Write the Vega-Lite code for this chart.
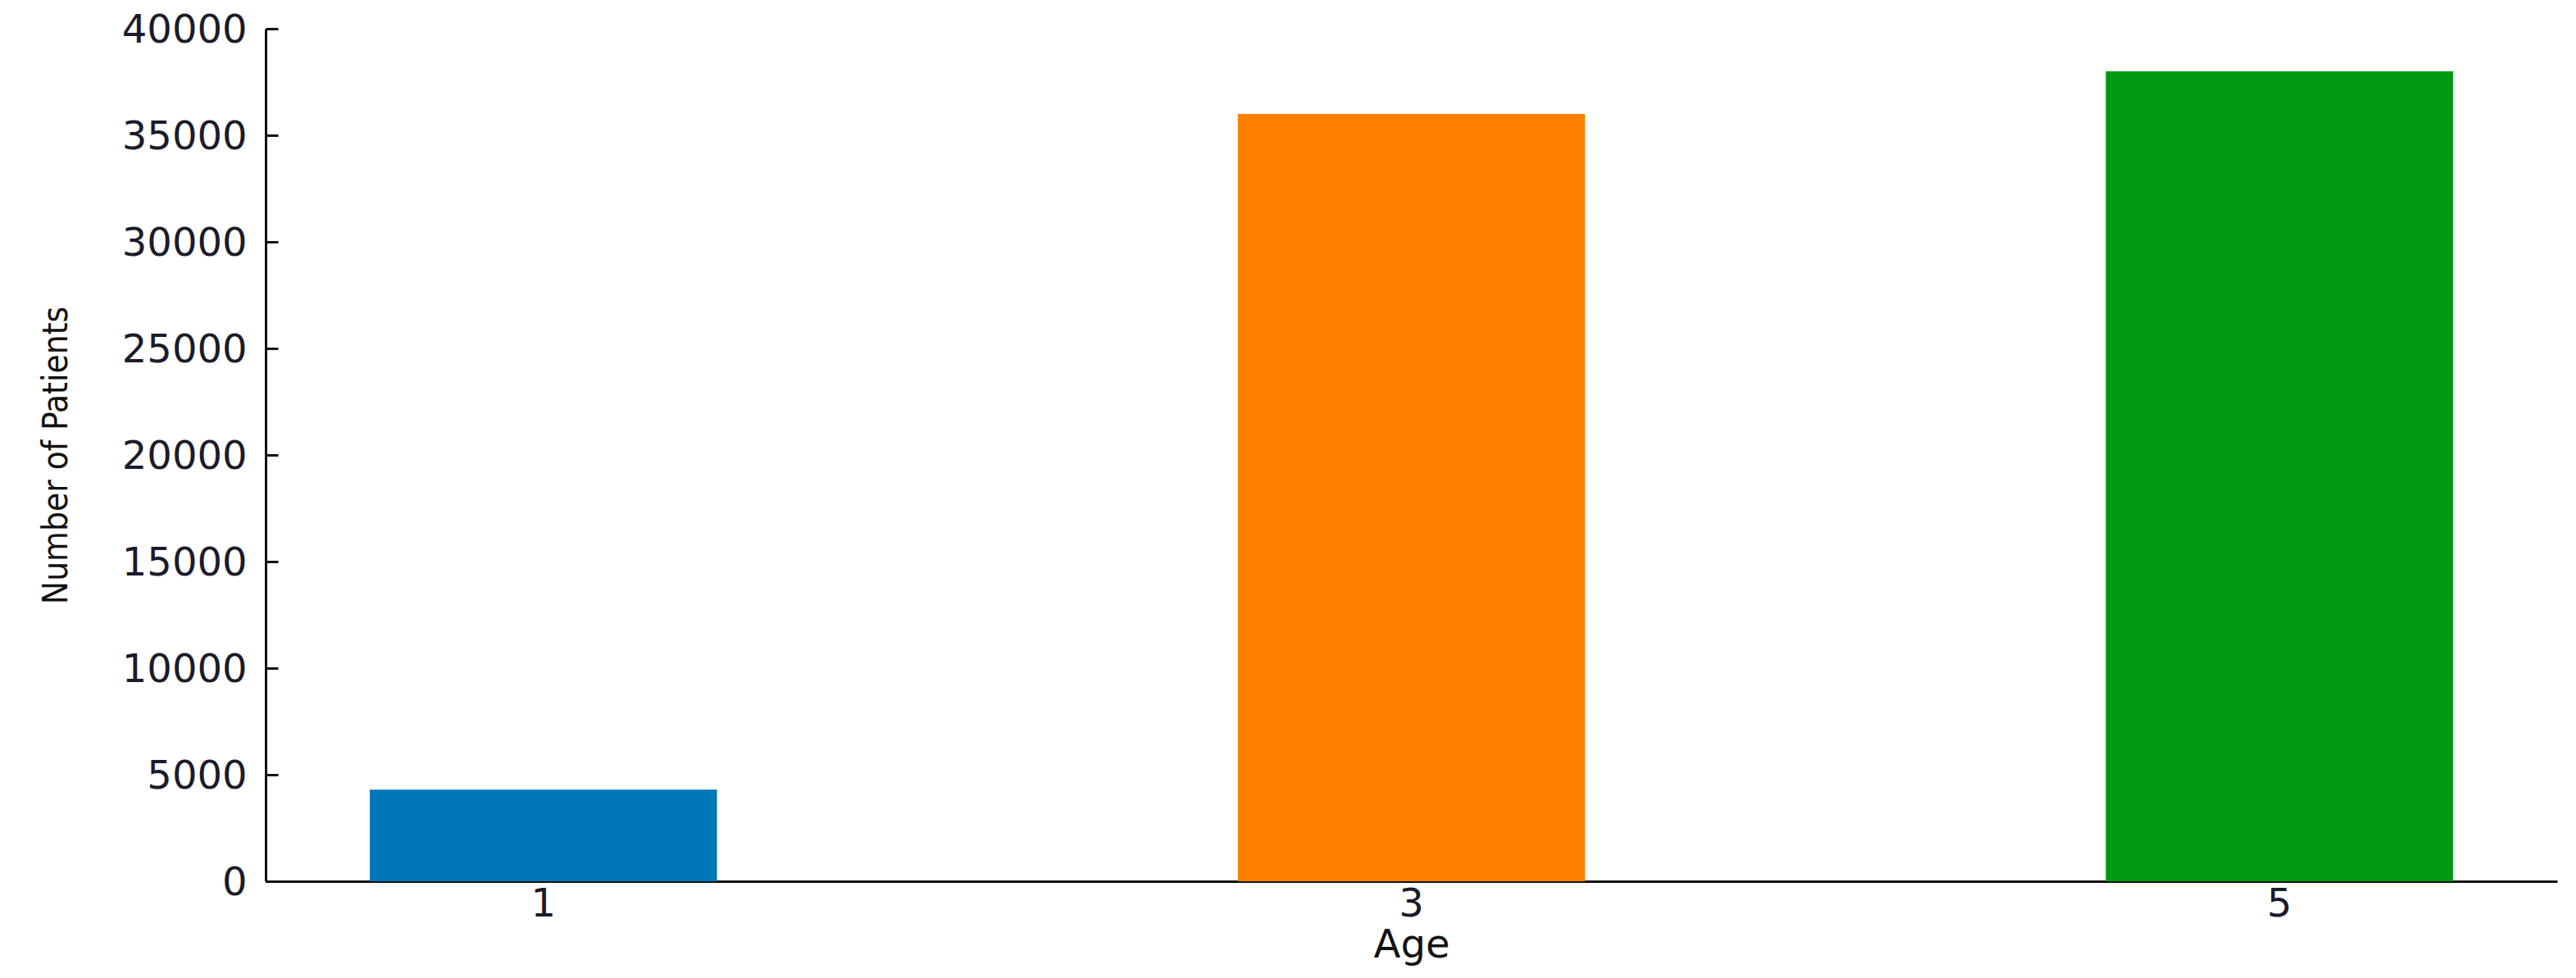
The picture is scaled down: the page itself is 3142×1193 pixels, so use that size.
{
  "$schema": "https://vega.github.io/schema/vega-lite/v6.json",
  "autosize": {"type": "none"},
  "width": 2795,
  "height": 1040,
  "padding": {"left": 324, "top": 35, "right": 23, "bottom": 118},
  "background": "white",
  "config": {
    "view": {"stroke": null},
    "axis": {
      "domainColor": "#111111",
      "domainWidth": 3,
      "tickColor": "#111111",
      "tickWidth": 3,
      "grid": false,
      "labelFont": "DejaVu Sans",
      "labelFontSize": 48,
      "labelColor": "#1b1b2b",
      "titleFont": "DejaVu Sans",
      "titleFontWeight": "normal",
      "titleColor": "#111111"
    }
  },
  "data": {
    "values": [
      {"Age": "1", "Patients": 4300},
      {"Age": "3", "Patients": 36000},
      {"Age": "5", "Patients": 38000}
    ]
  },
  "mark": {"type": "bar"},
  "encoding": {
    "x": {
      "field": "Age",
      "type": "ordinal",
      "scale": {"paddingInner": 0.6, "paddingOuter": 0.12},
      "axis": {
        "title": "Age",
        "labelAngle": 0,
        "tickSize": -13,
        "labelPadding": 17,
        "titleFontSize": 48,
        "titleBaseline": "alphabetic",
        "titleY": 92
      }
    },
    "y": {
      "field": "Patients",
      "type": "quantitative",
      "scale": {"domain": [0, 40000]},
      "axis": {
        "title": "Number of Patients",
        "values": [0, 5000, 10000, 15000, 20000, 25000, 30000, 35000, 40000],
        "format": "d",
        "tickSize": -15,
        "labelPadding": 38,
        "labelBaseline": "middle",
        "labelOffset": 2,
        "titleFont": "Liberation Sans Narrow, DejaVu Sans Condensed, DejaVu Sans",
        "titleFontSize": 42,
        "titleAngle": -90,
        "titleBaseline": "alphabetic",
        "titleAlign": "center",
        "titleX": -243,
        "titleY": 520
      }
    },
    "color": {
      "field": "Age",
      "type": "nominal",
      "scale": {"range": ["#0077b8", "#ff8000", "#009a12"]},
      "legend": null
    }
  }
}
